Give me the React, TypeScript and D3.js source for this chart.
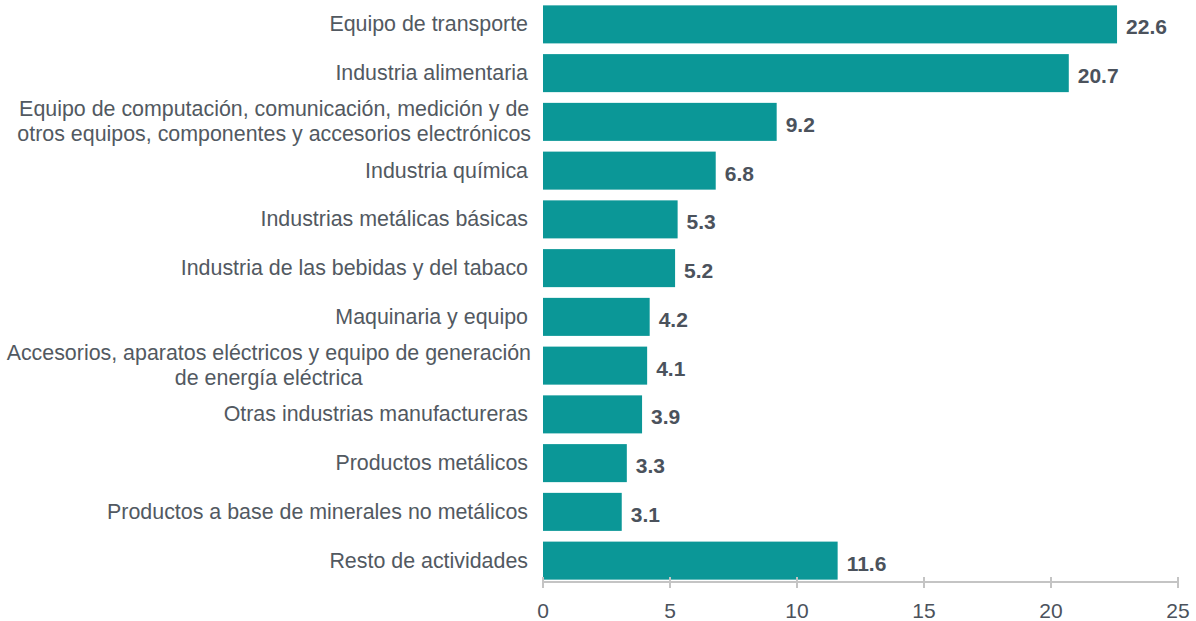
import React, { useEffect, useRef } from 'react';
import * as d3 from 'd3';

const categories: string[][] = [
  ['Equipo de transporte'],
  ['Industria alimentaria'],
  ['Equipo de computación, comunicación, medición y de', 'otros equipos, componentes y accesorios electrónicos'],
  ['Industria química'],
  ['Industrias metálicas básicas'],
  ['Industria de las bebidas y del tabaco'],
  ['Maquinaria y equipo'],
  ['Accesorios, aparatos eléctricos y equipo de generación', 'de energía eléctrica'],
  ['Otras industrias manufactureras'],
  ['Productos metálicos'],
  ['Productos a base de minerales no metálicos'],
  ['Resto de actividades'],
];
const values = [22.6, 20.7, 9.2, 6.8, 5.3, 5.2, 4.2, 4.1, 3.9, 3.3, 3.1, 11.6];
const ticks = [0, 5, 10, 15, 20, 25];

const W = 1196;
const H = 621;
const FONT = '"Liberation Sans", Arial, sans-serif';

export default function App() {
  const svgRef = useRef<SVGSVGElement>(null);

  useEffect(() => {
    if (!svgRef.current) return;
    const svg = d3.select(svgRef.current);
    svg.selectAll('*').remove();

    const x = d3.scaleLinear().domain([0, 25]).range([543, 1178]);
    const y = d3.scaleBand<number>()
      .domain(values.map((_, i) => i))
      .range([0, 585])
      .paddingInner(0.22)
      .paddingOuter(0.11);

    // barras
    svg.append('g')
      .selectAll('rect')
      .data(values)
      .enter()
      .append('rect')
      .attr('x', x(0))
      .attr('y', (_, i) => y(i) || 0)
      .attr('width', d => x(d) - x(0))
      .attr('height', y.bandwidth())
      .attr('fill', '#0b9797');

    // valores
    svg.append('g')
      .selectAll('text')
      .data(values)
      .enter()
      .append('text')
      .attr('x', d => x(d) + 9)
      .attr('y', (_, i) => (y(i) || 0) + y.bandwidth() / 2 + 10)
      .attr('font-family', FONT)
      .attr('font-size', 21)
      .attr('font-weight', 'bold')
      .attr('fill', '#4b525c')
      .text(d => d.toFixed(1));

    // etiquetas de categorías
    const labelRight = 531;
    const lg = svg.append('g')
      .attr('font-family', FONT)
      .attr('font-size', 21.4)
      .attr('fill', '#525961');
    categories.forEach((lines, i) => {
      const cy = (y(i) || 0) + y.bandwidth() / 2;
      if (lines.length === 1) {
        lg.append('text')
          .attr('x', labelRight - 3)
          .attr('y', cy + 7)
          .attr('text-anchor', 'end')
          .text(lines[0]);
      } else {
        const texts = lines.map((l, j) =>
          lg.append('text')
            .attr('y', cy + 7 + (j - (lines.length - 1) / 2) * 25)
            .attr('text-anchor', 'middle')
            .text(l)
        );
        const maxW = d3.max(texts, t => (t.node() as SVGTextElement).getComputedTextLength()) || 0;
        texts.forEach(t => t.attr('x', labelRight - maxW / 2));
      }
    });

    // eje x
    const axis = svg.append('g').attr('transform', 'translate(0,582)');
    axis.append('line')
      .attr('x1', x(0))
      .attr('x2', x(25))
      .attr('stroke', '#c4c4c4')
      .attr('stroke-width', 2);
    axis.selectAll('.tick')
      .data(ticks)
      .enter()
      .append('line')
      .attr('x1', d => x(d))
      .attr('x2', d => x(d))
      .attr('y1', -5)
      .attr('y2', 6)
      .attr('stroke', '#c4c4c4')
      .attr('stroke-width', 2);
    axis.selectAll('.tick-label')
      .data(ticks)
      .enter()
      .append('text')
      .attr('x', d => x(d))
      .attr('y', 36)
      .attr('text-anchor', 'middle')
      .attr('font-family', FONT)
      .attr('font-size', 21)
      .attr('fill', '#4b525c')
      .text(d => String(d));
  }, []);

  return (
    <div style={{ position: 'absolute', left: 0, top: 0, background: '#fff' }}>
      <svg ref={svgRef} width={W} height={H} style={{ display: 'block' }} />
    </div>
  );
}
